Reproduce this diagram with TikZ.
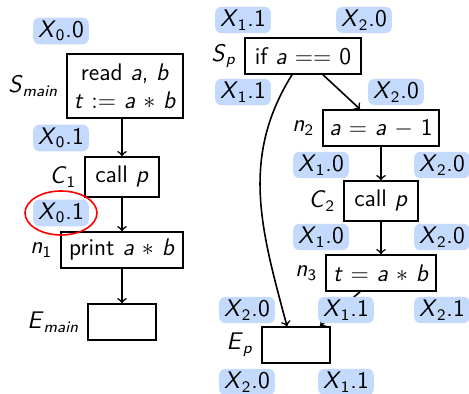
\documentclass[tikz,border=0pt]{standalone}
\usetikzlibrary{positioning}
\definecolor{labblue}{RGB}{196,218,252}
\newcommand{\vr}[1]{\textit{#1}}
\newcommand{\ix}[2]{\textit{#1}\textsubscript{#2}}

\begin{document}
\begin{tikzpicture}[x=0.5pt, y=-0.5pt, font=\fontsize{12}{14}\selectfont\sffamily,
  stmt/.style={draw, thick, minimum height=18pt, inner xsep=3pt, inner ysep=2pt},
  lab/.style={fill=labblue, rounded corners=3pt, inner xsep=2.5pt, inner ysep=1.5pt},
  flow/.style={thick, ->}]
  \useasboundingbox (0,0) rectangle (469,394);

  % main procedure
  \node[stmt, align=center, minimum width=58pt, minimum height=32pt] (smain) at (125,86) {read \vr{a}, \vr{b}\\\vr{t} $:=$ \vr{a} $*$ \vr{b}};
  \node[left=0.5pt of smain] (lsmain) {\ix{S}{\textit{main}}};
  \node[stmt, minimum width=37pt, minimum height=20pt] (c1) at (122,177) {call \vr{p}};
  \node[left=0.5pt of c1] (lc1) {\ix{C}{1}};
  \node[stmt, minimum width=61pt] (n1) at (122,250) {print \vr{a} $*$ \vr{b}};
  \node[left=0.5pt of n1] (ln1) {\ix{n}{1}};
  \node[stmt, minimum width=34pt] (emain) at (122,322) {};
  \node[left=0.5pt of emain] (lemain) {\ix{E}{\textit{main}}};

  \draw[flow] (smain.south -| c1.north) -- (c1.north);
  \draw[flow] (c1) -- (n1);
  \draw[flow] (n1) -- (emain);

  % procedure p
  \node[stmt, minimum width=58pt] (sp) at (303,56) {if \vr{a} $==$ 0};
  \node[left=0.5pt of sp] (lsp) {\ix{S}{\textit{p}}};
  \node[stmt, minimum width=58pt] (n2) at (381,128) {\vr{a} $=$ \vr{a} $-$ 1};
  \node[left=0.5pt of n2] (ln2) {\ix{n}{2}};
  \node[stmt, minimum width=37pt, minimum height=20pt] (c2) at (381,201) {call \vr{p}};
  \node[left=0.5pt of c2] (lc2) {\ix{C}{2}};
  \node[stmt, minimum width=55pt] (n3) at (381,273) {\vr{t} $=$ \vr{a} $*$ \vr{b}};
  \node[left=0.5pt of n3] (ln3) {\ix{n}{3}};
  \node[stmt, minimum width=34pt] (ep) at (296,345) {};
  \node[left=0.5pt of ep] (lep) {\ix{E}{\textit{p}}};

  \draw[flow] ([xshift=10pt]sp.south) -- ([xshift=-10.5pt]n2.north);
  \draw[flow] (n2) -- (c2);
  \draw[flow] (c2) -- (n3);
  \draw[flow] ([xshift=-10.5pt]n3.south) -- ([xshift=12pt]ep.north);
  \draw[flow] ([xshift=-5.5pt]sp.south) to[out=238, in=105] ([xshift=-4.5pt]ep.north);

  % labels
  \node[lab] (x00) at (61,31) {\ix{X}{0}.0};
  \node[lab] (x01) at (61,138) {\ix{X}{0}.1};
  \node[lab] (x01b) at (61,213) {\ix{X}{0}.1};
  \draw[red, thick] (x01b) ellipse (18pt and 11pt);

  \node[lab] (x11a) at (243,20) {\ix{X}{1}.1};
  \node[lab] (x20a) at (364,20) {\ix{X}{2}.0};
  \node[lab] (x11b) at (243,92) {\ix{X}{1}.1};
  \node[lab] (x20b) at (396,92) {\ix{X}{2}.0};
  \node[lab] (x10a) at (321,165) {\ix{X}{1}.0};
  \node[lab] (x20c) at (442,165) {\ix{X}{2}.0};
  \node[lab] (x10b) at (321,237) {\ix{X}{1}.0};
  \node[lab] (x20d) at (442,237) {\ix{X}{2}.0};
  \node[lab] (x20e) at (247,310) {\ix{X}{2}.0};
  \node[lab] (x11c) at (346,310) {\ix{X}{1}.1};
  \node[lab] (x21) at (442,310) {\ix{X}{2}.1};
  \node[lab] (x20f) at (247,382) {\ix{X}{2}.0};
  \node[lab] (x11d) at (346,382) {\ix{X}{1}.1};
\end{tikzpicture}
\end{document}
